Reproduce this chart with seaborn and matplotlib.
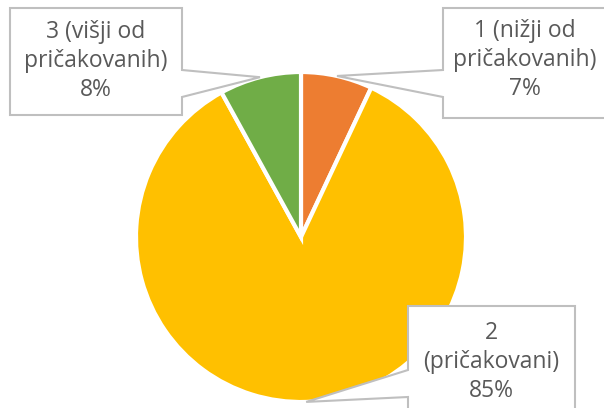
import numpy as np
import matplotlib
matplotlib.use('Agg')
import matplotlib.pyplot as plt
import seaborn as sns
from matplotlib.patches import Polygon

categories = ['1 (nižji od\npričakovanih)', '2\n(pričakovani)', '3 (višji od\npričakovanih)']
values = [7, 85, 8]
colors = ['#ED7D31', '#FFC000', '#70AD47']

W, H = 604, 408
CX, CY, R = 301, 237, 165   # pie centre / radius in pixels

sns.set_theme(style='white')
plt.rcParams['font.family'] = ['Open Sans', 'DejaVu Sans']


def to_data(px, py):
    return (px - CX) / R, (CY - py) / R


fig = plt.figure(figsize=(W / 100, H / 100), dpi=100)
ax = fig.add_axes([0, 0, 1, 1])
ax.pie(values, colors=sns.color_palette(colors), startangle=90, counterclock=False,
       radius=1, wedgeprops=dict(edgecolor='white', linewidth=3))
x0, y0 = to_data(0, H)
x1, y1 = to_data(W, 0)
ax.set_xlim(x0, x1)
ax.set_ylim(y0, y1)
ax.set_aspect('auto')
ax.axis('off')

# callout boxes in pixels: left, right, top, bottom, wedge side, wedge top, wedge bottom
boxes = [
    (443, 606, 8, 118, 'left', 70, 97),
    (408, 575, 306, 412, 'left', 370, 397),
    (10, 182, 8, 115, 'right', 70, 97),
]
text_y = [60, 362, 61]

cum = np.cumsum([0] + values)
for i, (lab, v) in enumerate(zip(categories, values)):
    mid = (cum[i] + v / 2) / sum(values) * 2 * np.pi
    tip = (np.sin(mid), np.cos(mid))
    l, r, t, b, side, wt, wb = boxes[i]
    if side == 'right':
        pts = [(l, t), (r, t), (r, wt), None, (r, wb), (r, b), (l, b)]
    else:
        pts = [(l, t), (r, t), (r, b), (l, b), (l, wb), None, (l, wt)]
    verts = [tip if p is None else to_data(*p) for p in pts]
    ax.add_patch(Polygon(verts, closed=True, facecolor='white', edgecolor='#BFBFBF',
                         linewidth=1.5, zorder=3))
    tx, ty = to_data((l + r) / 2, text_y[i])
    ax.text(tx, ty, f'{lab}\n{v}%', ha='center', va='center', multialignment='center',
            fontsize=16.5, color='#595959', linespacing=1.3, zorder=4)

fig.savefig('out.png', dpi=100)
